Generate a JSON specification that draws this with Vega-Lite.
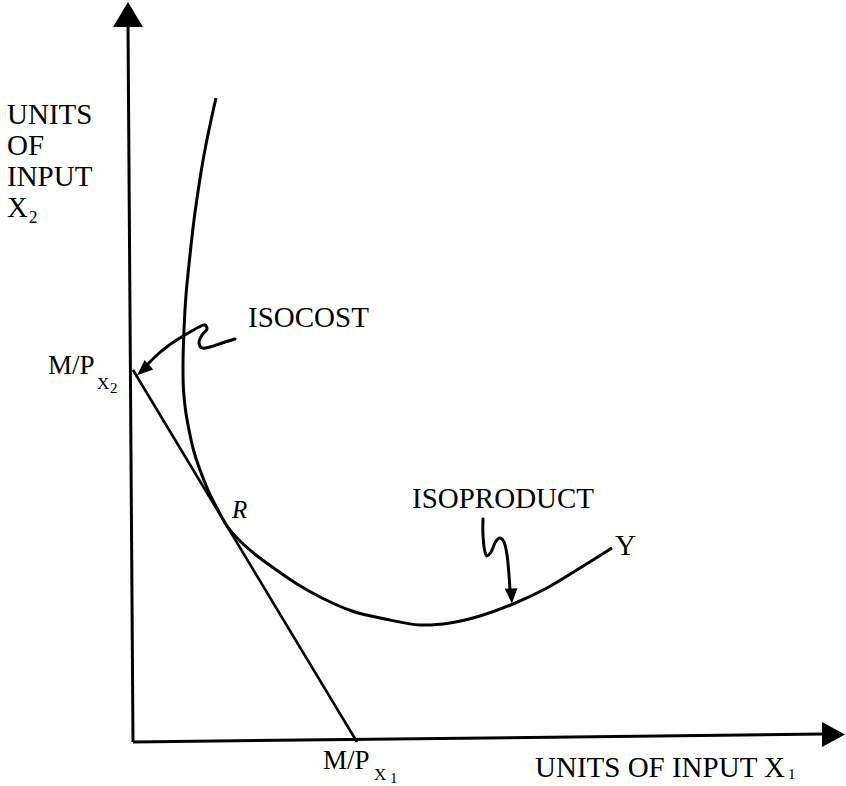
{
  "$schema": "https://vega.github.io/schema/vega-lite/v6.json",
  "width": 846,
  "height": 786,
  "autosize": {"type": "fit", "contains": "padding"},
  "padding": 0,
  "background": "white",
  "config": {"view": {"stroke": null}},
  "datasets": {
    "axes": [
      {"axis": "y", "i": 0, "x": 0, "y": 0},
      {"axis": "y", "i": 1, "x": -5, "y": 716},
      {"axis": "x", "i": 0, "x": 0, "y": 0},
      {"axis": "x", "i": 1, "x": 690, "y": 8}
    ],
    "isocost": [
      {"i": 0, "x": 0, "y": 372},
      {"i": 1, "x": 224, "y": 0}
    ],
    "isoproduct": [
      {"i": 0, "x": 83, "y": 644},
      {"i": 1, "x": 77, "y": 617},
      {"i": 2, "x": 71, "y": 587},
      {"i": 3, "x": 66, "y": 557},
      {"i": 4, "x": 61, "y": 522},
      {"i": 5, "x": 57, "y": 487},
      {"i": 6, "x": 53, "y": 447},
      {"i": 7, "x": 51, "y": 412},
      {"i": 8, "x": 50, "y": 377},
      {"i": 9, "x": 50.5, "y": 352},
      {"i": 10, "x": 52.5, "y": 332},
      {"i": 11, "x": 56, "y": 312},
      {"i": 12, "x": 60.5, "y": 292},
      {"i": 13, "x": 67, "y": 272},
      {"i": 14, "x": 75, "y": 252},
      {"i": 15, "x": 85, "y": 232},
      {"i": 16, "x": 94, "y": 216},
      {"i": 17, "x": 107, "y": 201},
      {"i": 18, "x": 123, "y": 187},
      {"i": 19, "x": 142, "y": 173},
      {"i": 20, "x": 164, "y": 158},
      {"i": 21, "x": 189, "y": 144},
      {"i": 22, "x": 219, "y": 131},
      {"i": 23, "x": 252, "y": 123},
      {"i": 24, "x": 287, "y": 117},
      {"i": 25, "x": 317, "y": 119},
      {"i": 26, "x": 347, "y": 126},
      {"i": 27, "x": 380, "y": 138},
      {"i": 28, "x": 412, "y": 153},
      {"i": 29, "x": 447, "y": 174},
      {"i": 30, "x": 479, "y": 194}
    ],
    "isocostPointer": [
      {"i": 0, "x": 102, "y": 403},
      {"i": 1, "x": 89, "y": 399},
      {"i": 2, "x": 77, "y": 395},
      {"i": 3, "x": 69, "y": 394},
      {"i": 4, "x": 66, "y": 399},
      {"i": 5, "x": 69, "y": 407},
      {"i": 6, "x": 74, "y": 413},
      {"i": 7, "x": 72, "y": 417},
      {"i": 8, "x": 66, "y": 415},
      {"i": 9, "x": 57, "y": 410},
      {"i": 10, "x": 47, "y": 404},
      {"i": 11, "x": 35, "y": 396},
      {"i": 12, "x": 24, "y": 387},
      {"i": 13, "x": 15, "y": 378}
    ],
    "isoproductPointer": [
      {"i": 0, "x": 350, "y": 223},
      {"i": 1, "x": 350, "y": 207},
      {"i": 2, "x": 352, "y": 190},
      {"i": 3, "x": 354, "y": 186},
      {"i": 4, "x": 358, "y": 190},
      {"i": 5, "x": 363, "y": 201},
      {"i": 6, "x": 367, "y": 204},
      {"i": 7, "x": 371, "y": 200},
      {"i": 8, "x": 374, "y": 187},
      {"i": 9, "x": 376, "y": 167},
      {"i": 10, "x": 377, "y": 152}
    ],
    "headY": [{"x": -5, "y": 727.5}],
    "headX": [{"x": 700.5, "y": 7.5}],
    "headIsocost": [{"x": 10, "y": 372}],
    "headIsoproduct": [{"x": 378.5, "y": 146}],
    "yTitle": [
      {"label": "UNITS\nOF\nINPUT\nX₂", "x": -126, "y": 618}
    ],
    "bigText": [
      {"label": "ISOCOST", "x": 115, "y": 415},
      {"label": "ISOPRODUCT", "x": 279, "y": 234},
      {"label": "Y", "x": 482, "y": 187},
      {"label": "UNITS OF INPUT X", "x": 402, "y": -35}
    ],
    "mpText": [
      {"label": "M/P", "x": -85, "y": 368},
      {"label": "M/P", "x": 190, "y": -27}
    ],
    "subX": [
      {"label": "X", "x": -36, "y": 353},
      {"label": "X", "x": 241, "y": -38}
    ],
    "subDigit": [
      {"label": "2", "x": -23, "y": 349},
      {"label": "1", "x": 257, "y": -41},
      {"label": "1", "x": 655, "y": -37}
    ],
    "rText": [{"label": "R", "x": 99, "y": 224}]
  },
  "encoding": {
    "x": {"field": "x", "type": "quantitative", "scale": {"domain": [-133, 713], "nice": false, "zero": false}, "axis": null},
    "y": {"field": "y", "type": "quantitative", "scale": {"domain": [-44, 742], "nice": false, "zero": false}, "axis": null}
  },
  "layer": [
    {
      "data": {"name": "axes"},
      "mark": {"type": "line", "color": "black", "strokeWidth": 3},
      "encoding": {"detail": {"field": "axis"}, "order": {"field": "i", "type": "quantitative"}}
    },
    {
      "data": {"name": "isocost"},
      "mark": {"type": "line", "color": "black", "strokeWidth": 2.6},
      "encoding": {"order": {"field": "i", "type": "quantitative"}}
    },
    {
      "data": {"name": "isoproduct"},
      "mark": {"type": "line", "color": "black", "strokeWidth": 3, "interpolate": "catmull-rom"},
      "encoding": {"order": {"field": "i", "type": "quantitative"}}
    },
    {
      "data": {"name": "isocostPointer"},
      "mark": {"type": "line", "color": "black", "strokeWidth": 3, "interpolate": "catmull-rom", "strokeCap": "round"},
      "encoding": {"order": {"field": "i", "type": "quantitative"}}
    },
    {
      "data": {"name": "isoproductPointer"},
      "mark": {"type": "line", "color": "black", "strokeWidth": 3, "interpolate": "catmull-rom", "strokeCap": "round"},
      "encoding": {"order": {"field": "i", "type": "quantitative"}}
    },
    {
      "data": {"name": "headY"},
      "mark": {"type": "point", "filled": true, "color": "black", "opacity": 1, "shape": "M0,-0.833L1,0.833L-1,0.833Z", "size": 900}
    },
    {
      "data": {"name": "headX"},
      "mark": {"type": "point", "filled": true, "color": "black", "opacity": 1, "shape": "M0.92,0L-0.92,-1L-0.92,1Z", "size": 625}
    },
    {
      "data": {"name": "headIsocost"},
      "mark": {"type": "point", "filled": true, "color": "black", "opacity": 1, "shape": "M0,-1L0.8,1L-0.8,1Z", "size": 256, "angle": 228}
    },
    {
      "data": {"name": "headIsoproduct"},
      "mark": {"type": "point", "filled": true, "color": "black", "opacity": 1, "shape": "M0,-1L0.85,1L-0.85,1Z", "size": 225, "angle": 177}
    },
    {
      "data": {"name": "yTitle"},
      "mark": {"type": "text", "align": "left", "baseline": "alphabetic", "font": "Liberation Serif", "fontSize": 29, "lineHeight": 31, "lineBreak": "\n", "color": "black"},
      "encoding": {"text": {"field": "label"}}
    },
    {
      "data": {"name": "bigText"},
      "mark": {"type": "text", "align": "left", "baseline": "alphabetic", "font": "Liberation Serif", "fontSize": 29, "color": "black"},
      "encoding": {"text": {"field": "label"}}
    },
    {
      "data": {"name": "mpText"},
      "mark": {"type": "text", "align": "left", "baseline": "alphabetic", "font": "Liberation Serif", "fontSize": 27, "color": "black"},
      "encoding": {"text": {"field": "label"}}
    },
    {
      "data": {"name": "subX"},
      "mark": {"type": "text", "align": "left", "baseline": "alphabetic", "font": "Liberation Serif", "fontSize": 17, "color": "black"},
      "encoding": {"text": {"field": "label"}}
    },
    {
      "data": {"name": "subDigit"},
      "mark": {"type": "text", "align": "left", "baseline": "alphabetic", "font": "Liberation Serif", "fontSize": 15, "color": "black"},
      "encoding": {"text": {"field": "label"}}
    },
    {
      "data": {"name": "rText"},
      "mark": {"type": "text", "align": "left", "baseline": "alphabetic", "font": "Liberation Serif", "fontStyle": "italic", "fontSize": 25, "color": "black"},
      "encoding": {"text": {"field": "label"}}
    }
  ]
}
